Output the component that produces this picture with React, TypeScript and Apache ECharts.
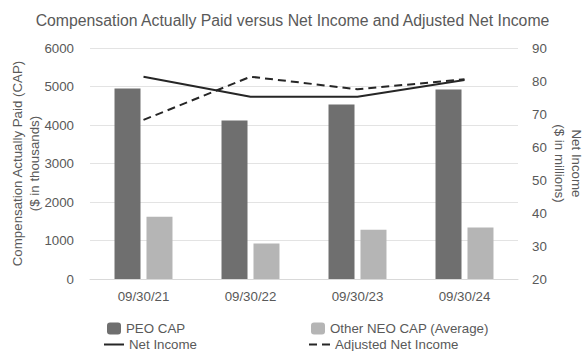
import React, { useEffect, useRef } from "react";
import * as echarts from "echarts";

const categories = ["09/30/21", "09/30/22", "09/30/23", "09/30/24"];
const peoCap = [4950, 4120, 4530, 4920];
const otherNeoCap = [1620, 920, 1280, 1340];
const netIncome = [81.3, 75.2, 75.2, 80.3];
const adjustedNetIncome = [68.2, 81.3, 77.5, 80.5];

const TEXT = "#595959";
const FONT = "'Liberation Sans', Arial, sans-serif";

export default function App() {
  const ref = useRef<HTMLDivElement>(null);
  useEffect(() => {
    if (!ref.current) return;
    const chart = echarts.init(ref.current, null, { renderer: "svg" });
    const legendText = { color: TEXT, fontSize: 13.3, fontFamily: FONT };
    chart.setOption({
      animation: false,
      textStyle: { fontFamily: FONT },
      title: {
        text: "Compensation Actually Paid versus Net Income and Adjusted Net Income",
        left: "center",
        top: 7,
        textStyle: { color: TEXT, fontSize: 15.8, fontWeight: "normal", fontFamily: FONT },
      },
      legend: [
        { data: ["PEO CAP"], left: 107, top: 322, itemWidth: 14, itemHeight: 12, itemGap: 6, textStyle: legendText, padding: 0 },
        { data: ["Other NEO CAP (Average)"], left: 311, top: 322, itemWidth: 14, itemHeight: 12, textStyle: legendText, padding: 0 },
        {
          data: [{ name: "Net Income", icon: "rect" }],
          left: 104, top: 338, itemWidth: 20, itemHeight: 2, itemGap: 4,
          textStyle: legendText, padding: 0,
        },
        {
          data: [{ name: "Adjusted Net Income", icon: "path://M0,0H8V2H0Z M13,0H21V2H13Z" }],
          left: 309, top: 338, itemWidth: 21, itemHeight: 2,
          textStyle: legendText, padding: 0,
        },
      ],
      grid: { left: 90, right: 67, top: 48, bottom: 72, outerBoundsMode: "none", containLabel: false },
      xAxis: {
        type: "category",
        data: categories,
        axisLine: { show: true, lineStyle: { color: "#d9d9d9" } },
        axisTick: { show: false },
        axisLabel: { color: TEXT, fontSize: 13.3, margin: 11, fontFamily: FONT },
      },
      yAxis: [
        {
          type: "value",
          min: 0,
          max: 6000,
          interval: 1000,
          name: "Compensation Actually Paid (CAP)\n($ in thousands)",
          nameLocation: "middle",
          nameGap: 47,
          nameMoveOverlap: false,
          nameTextStyle: { color: TEXT, fontSize: 13.3, lineHeight: 17, fontFamily: FONT },
          axisLine: { show: false },
          axisTick: { show: false },
          axisLabel: { color: TEXT, fontSize: 13.3, margin: 16, fontFamily: FONT, formatter: (v: number) => String(v) },
          splitLine: { lineStyle: { color: "#e3e3e3" } },
        },
        {
          type: "value",
          min: 20,
          max: 90,
          interval: 10,
          name: "Net Income\n($ in millions)",
          nameLocation: "middle",
          nameRotate: -90,
          nameGap: 33,
          nameMoveOverlap: false,
          nameTextStyle: { color: TEXT, fontSize: 13.3, lineHeight: 17, fontFamily: FONT },
          axisLine: { show: false },
          axisTick: { show: false },
          axisLabel: { color: TEXT, fontSize: 13.3, margin: 14, fontFamily: FONT },
          splitLine: { show: false },
        },
      ],
      series: [
        {
          name: "PEO CAP",
          type: "bar",
          data: peoCap,
          barWidth: 26,
          barGap: "23%",
          itemStyle: { color: "#6f6f6f" },
        },
        {
          name: "Other NEO CAP (Average)",
          type: "bar",
          data: otherNeoCap,
          barWidth: 26,
          itemStyle: { color: "#b5b5b5" },
        },
        {
          name: "Net Income",
          type: "line",
          yAxisIndex: 1,
          data: netIncome,
          symbol: "none",
          lineStyle: { color: "#262626", width: 2 },
          itemStyle: { color: "#262626" },
        },
        {
          name: "Adjusted Net Income",
          type: "line",
          yAxisIndex: 1,
          data: adjustedNetIncome,
          symbol: "none",
          lineStyle: { color: "#262626", width: 2, type: [8, 5] },
          itemStyle: { color: "#262626" },
        },
      ],
    });
    return () => chart.dispose();
  }, []);
  return <div ref={ref} style={{ width: 585, height: 351, position: "absolute", left: 0, top: 0 }} />;
}
